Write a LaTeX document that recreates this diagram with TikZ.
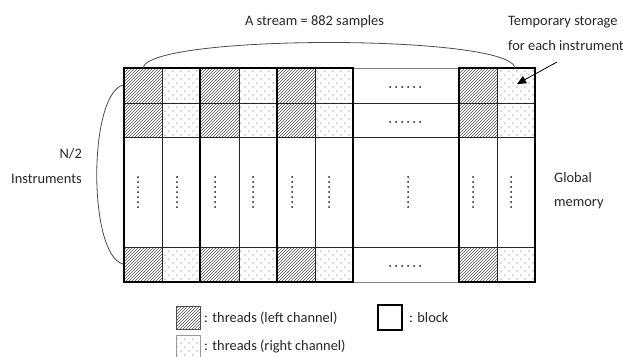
\documentclass[tikz,border=0pt]{standalone}
\usepackage{fontspec}
\setmainfont{Carlito}
\usetikzlibrary{patterns,arrows.meta}
\pgfdeclarepatternformonly{hatchlines}{\pgfpoint{-1pt}{-1pt}}{\pgfpoint{4pt}{4pt}}{\pgfpoint{3pt}{3pt}}{%
  \pgfsetlinewidth{0.6pt}\pgfpathmoveto{\pgfpoint{0pt}{0pt}}\pgfpathlineto{\pgfpoint{3.1pt}{3.1pt}}\pgfusepath{stroke}}
\pgfdeclarepatternformonly{sparsedots}{\pgfpoint{-1pt}{-1pt}}{\pgfpoint{9pt}{9pt}}{\pgfpoint{8pt}{8pt}}{%
  \pgfpathcircle{\pgfpoint{1pt}{1pt}}{0.6pt}\pgfpathcircle{\pgfpoint{5pt}{5pt}}{0.6pt}\pgfusepath{fill}}
\tikzset{
  hatchcell/.style={pattern=hatchlines, pattern color=black!65},
  dotcell/.style={pattern=sparsedots, pattern color=black!65},
  gridline/.style={line width=0.8pt, draw=black!85},
  blockline/.style={line width=2.4pt, draw=black},
  bracecurve/.style={line width=0.8pt, draw=black!70},
  lbl/.style={font=\fontsize{14.4}{17}\selectfont, inner sep=0pt, text=black!85},
}
\begin{document}
\begin{tikzpicture}[x=1pt, y=-1pt]
\useasboundingbox (0,0) rectangle (623,356);
% cells
\foreach \xa/\xb in {124/162, 200/239, 277/315, 459/497} {
  \foreach \ya/\yb in {68/103, 103/137, 247/282} {
    \path[hatchcell] (\xa,\ya) rectangle (\xb,\yb);
  }
}
\foreach \xa/\xb in {162/200, 239/277, 315/353, 497/535} {
  \foreach \ya/\yb in {68/103, 103/137, 247/282} {
    \path[dotcell] (\xa,\ya) rectangle (\xb,\yb);
  }
}
% thin grid lines
\foreach \y in {103,137,247} \draw[gridline] (124,\y) -- (535,\y);
\draw[gridline, draw=black!50] (353,68) -- (459,68);
\draw[gridline, draw=black!50] (353,282) -- (459,282);
\foreach \x in {162,239,315,497} \draw[gridline] (\x,68) -- (\x,282);
% blocks
\foreach \xa/\xb in {124/200, 200/277, 277/353, 459/535} \draw[blockline] (\xa,68) rectangle (\xb,282);
% ellipsis dots
\foreach \x in {138,177,215,253,292,329,408,473,511} {
  \foreach \k in {0,...,6} \fill[black!90] (\x,177+5*\k) circle (1pt);
}
\foreach \y in {87,122,266} {
  \foreach \k in {0,...,5} \fill[black!90] (390+6*\k,\y) circle (1pt);
}
% brace curves
\coordinate (topL) at (143,68);
\coordinate (topR) at (515,68);
\draw[bracecurve] (topL) .. controls (148,34) and (510,34) .. (topR);
\coordinate (leftT) at (123,85);
\coordinate (leftB) at (123,264);
\draw[bracecurve] (leftT) .. controls (88,95) and (88,255) .. (leftB);
% labels
\node[lbl, anchor=base] (stream) at (314.5,25) {A stream = 882 samples};
\node[lbl, anchor=base west] (temp1) at (508,25) {Temporary storage};
\node[lbl, anchor=base west] (temp2) at (508,50) {for each instrument};
\node[lbl, anchor=base east] (ntwo) at (82,158) {N/2};
\node[lbl, anchor=base east] (instr) at (82,183) {Instruments};
\node[lbl, anchor=base west] (glob) at (554,182) {Global};
\node[lbl, anchor=base west] (mem) at (554,206) {memory};
% arrow
\coordinate (arS) at (557,62);
\coordinate (arE) at (517,84);
\draw[line width=0.8pt, -{Triangle[length=9pt,width=8pt]}] (arS) -- (arE);
% legend
\path[hatchcell, draw=black!70, line width=0.6pt] (176,306) rectangle (200,329);
\node[lbl, anchor=base west] (lgl) at (204,322) {: threads (left channel)};
\path[dotcell, draw=black!40, line width=0.6pt] (176,335) rectangle (200,358);
\node[lbl, anchor=base west] (lgr) at (204,350) {: threads (right channel)};
\draw[blockline] (378,305) rectangle (402,330);
\node[lbl, anchor=base west] (lgb) at (409,322) {: block};
\end{tikzpicture}
\end{document}
